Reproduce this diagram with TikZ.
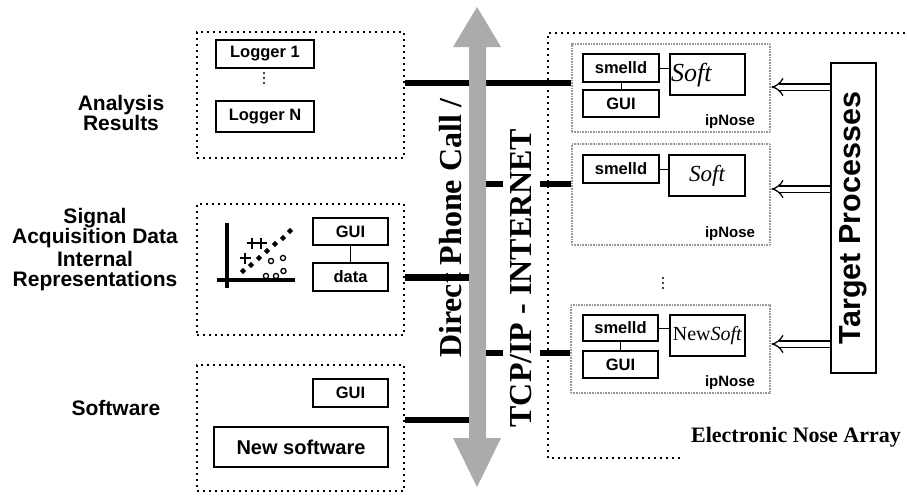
\documentclass[tikz,border=0pt]{standalone}
\usepackage{fontspec}
\setmainfont{Liberation Serif}
\setsansfont{Liberation Sans}
\usetikzlibrary{arrows.meta}
\begin{document}
\begin{tikzpicture}[x=1pt,y=-1pt,
  dotframe/.style={draw, line width=2pt, dash pattern=on 2pt off 4pt, inner sep=0pt},
  ipframe/.style={draw=black!40, line width=2.8pt, dash pattern=on 1pt off 0.6pt, inner sep=0pt},
  inbox/.style={draw, line width=1.3pt, inner sep=0pt, font=\sffamily\bfseries\fontsize{16.5}{18}\selectfont},
  softbox/.style={draw, line width=1.3pt, inner sep=0pt},
  link/.style={line width=6pt},
  tie/.style={line width=1pt},
  sidelabel/.style={align=center, font=\sffamily\bfseries\fontsize{21}{20}\selectfont},
  bustext/.style={rotate=90, font=\bfseries\fontsize{32}{34}\selectfont},
  iplabel/.style={font=\sffamily\bfseries\fontsize{15}{17}\selectfont},
  feed/.style={double, double distance=5pt, line width=1.3pt, -{Implies[scale=1.35]}},
  busgray/.style={fill=black!33}
]
\useasboundingbox (0,0) rectangle (907,496);

% ---- left column captions ----
\node[sidelabel] (capA) at (121,113) {Analysis\\Results};
\node[sidelabel] (capB1) at (95,228) {Signal\\Acquisition Data};
\node[sidelabel] (capB2) at (95,271) {Internal\\Representations};
\node[sidelabel] (capC) at (116,408) {Software};

% ---- analysis results frame ----
\node[dotframe, minimum width=207pt, minimum height=126pt] (resbox) at (300.5,95) {};
\node[inbox, minimum width=98pt, minimum height=28pt] (log1) at (265,54) {Logger 1};
\node[inbox, minimum width=98pt, minimum height=31pt] (logN) at (265,116.5) {Logger N};
\foreach \yy in {73,78,83} \fill (264,\yy) circle (1.1pt);

% ---- signal / representation frame ----
\node[dotframe, minimum width=207pt, minimum height=131pt] (sigbox) at (300.5,269.5) {};
\node[inbox, minimum width=75pt, minimum height=27pt] (guiB) at (350.5,231.5) {GUI};
\node[inbox, minimum width=75pt, minimum height=28pt] (data) at (350.5,277) {data};
\draw[tie] (guiB.south) -- (data.north);
% small scatter plot
\draw[line width=3.5pt] (227,223) -- (227,288);
\draw[line width=3.5pt] (217,280) -- (295,280);
\foreach \px/\py in {243/271,251/265,259/258,267/251,275/244,283/238,290/231}
  \fill (\px,\py-3.2) -- (\px+3.2,\py) -- (\px,\py+3.2) -- (\px-3.2,\py) -- cycle;
\foreach \px/\py in {245/258,252/243,261/243}
  \draw[line width=2.4pt] (\px-5.5,\py) -- (\px+5.5,\py) (\px,\py-5.5) -- (\px,\py+5.5);
\foreach \px/\py in {271/261,283/258,266/276,276/276,283.5/271}
  \draw[line width=1.3pt] (\px,\py) circle (2.6pt);

% ---- software frame ----
\node[dotframe, minimum width=207pt, minimum height=126pt] (swbox) at (300.5,428) {};
\node[inbox, minimum width=75pt, minimum height=28pt] (guiC) at (350.5,393) {GUI};
\node[inbox, minimum width=174pt, minimum height=40pt, font=\sffamily\bfseries\fontsize{20}{22}\selectfont] (newsw) at (301,447) {New software};

% ---- electronic nose array ----
\draw[line width=2pt, dash pattern=on 2pt off 4pt] (905,33) -- (548,33) -- (548,458) -- (682,458);
\node[font=\bfseries\fontsize{22}{24}\selectfont] (enalabel) at (796,437) {Electronic Nose Array};

\node[ipframe, minimum width=198pt, minimum height=88pt] (ip1) at (671,88) {};
\node[ipframe, minimum width=198pt, minimum height=101pt] (ip2) at (671,194.5) {};
\node[ipframe, minimum width=199pt, minimum height=88pt] (ip3) at (670.5,349) {};
\node[iplabel] (ipl1) at (730,122) {ipNose};
\node[iplabel] (ipl2) at (730,234) {ipNose};
\node[iplabel] (ipl3) at (730,383) {ipNose};

% nose 1
\node[inbox, minimum width=76pt, minimum height=28pt] (sm1) at (621,68) {smelld};
\node[inbox, minimum width=76pt, minimum height=27pt] (gui1) at (621,103.5) {GUI};
\node[softbox, minimum width=75pt, minimum height=41pt] (soft1) at (707.5,74.5) {};
\node[anchor=west, inner sep=0pt, font=\itshape\fontsize{26}{28}\selectfont] (soft1t) at (671,75) {Soft};
\draw[tie] (sm1.south) -- (gui1.north);
\draw[tie] (sm1.east) -- (soft1.west |- sm1.east);

% nose 2
\node[inbox, minimum width=76pt, minimum height=28pt] (sm2) at (621,169) {smelld};
\node[softbox, minimum width=76pt, minimum height=41pt, font=\itshape\fontsize{23}{25}\selectfont] (soft2) at (707,175.5) {Soft};
\draw[tie] (sm2.east) -- (soft2.west |- sm2.east);

% more noses
\foreach \yy in {278,283,288} \fill (663,\yy) circle (1.1pt);

% nose 3
\node[inbox, minimum width=75pt, minimum height=26pt] (sm3) at (620.5,328) {smelld};
\node[inbox, minimum width=75pt, minimum height=27pt] (gui3) at (620.5,364.5) {GUI};
\node[softbox, minimum width=75pt, minimum height=41pt, font=\fontsize{20}{22}\selectfont] (soft3) at (707.5,335.5) {New\textit{Soft}};
\draw[tie] (sm3.south) -- (gui3.north);
\draw[tie] (sm3.east) -- (soft3.west |- sm3.east);

% ---- target processes ----
\node[draw, line width=1.5pt, rotate=90, minimum width=310pt, minimum height=45pt, inner sep=0pt,
      font=\sffamily\bfseries\fontsize{30.5}{32}\selectfont] (tgt) at (853.5,218) {Target Processes};
\coordinate (fA) at (0,87);
\coordinate (fB) at (0,189);
\coordinate (fC) at (0,344);
\draw[feed] (tgt.north |- fA) -- (ip1.east |- fA);
\draw[feed] (tgt.north |- fB) -- (ip2.east |- fB);
\draw[feed] (tgt.north |- fC) -- (ip3.east |- fC);

% ---- links to the communication bus ----
\coordinate (yA) at (0,83);
\draw[link] (resbox.east |- yA) -- (ip1.west |- yA);

% double-headed bus arrow
\fill[busgray] (477,7) -- (501,47) -- (486,47) -- (486,438) -- (501,438) -- (477,487)
  -- (453,438) -- (469,438) -- (469,47) -- (453,47) -- cycle;
\coordinate (busL) at (469,0);
\coordinate (busR) at (486,0);

\node[bustext] (busA) at (451,228) {Direct Phone Call /};
\node[bustext] (busB) at (521,278) {TCP/IP - INTERNET};

\coordinate (yB) at (0,184);
\coordinate (yD) at (0,353);
\coordinate (stubB) at (503,184);
\coordinate (stubD) at (503,353);
\coordinate (gapB) at (540,184);
\coordinate (gapD) at (540,353);
\draw[link] (busR |- yB) -- (stubB);
\draw[link] (gapB) -- (ip2.west |- yB);
\draw[link] (busR |- yD) -- (stubD);
\draw[link] (gapD) -- (ip3.west |- yD);

\coordinate (yC) at (0,277);
\coordinate (yE) at (0,420);
\draw[line width=7pt] (sigbox.east |- yC) -- (busL |- yC);
\draw[link] (swbox.east |- yE) -- (busL |- yE);
\end{tikzpicture}
\end{document}
